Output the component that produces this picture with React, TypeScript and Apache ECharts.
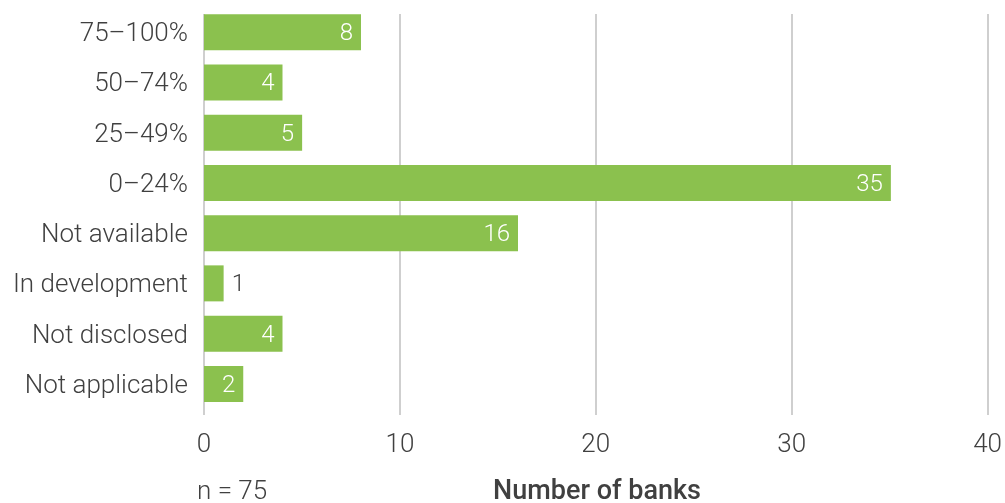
import React, { useEffect, useRef } from "react";
import * as echarts from "echarts";

const categories = [
  "75–100%",
  "50–74%",
  "25–49%",
  "0–24%",
  "Not available",
  "In development",
  "Not disclosed",
  "Not applicable",
];
const values = [8, 4, 5, 35, 16, 1, 4, 2];
const xTicks = { min: 0, max: 40, interval: 10 };
const axisTitle = "Number of banks";
const note = "n = 75";

const GREEN = "#8bc14e";
const TEXT = "#404040";
const GRIDC = "#bfbfbf";
const FONT = "Roboto";

export default function App() {
  const ref = useRef<HTMLDivElement>(null);
  useEffect(() => {
    if (!ref.current) return;
    const chart = echarts.init(ref.current, undefined, { renderer: "svg" });
    chart.setOption({
      animation: false,
      grid: [
        { left: 204, width: 785, top: 7, height: 402 },
        { left: 204, width: 785, top: 14, height: 401 },
      ],
      xAxis: [
        { gridIndex: 0, type: "value", ...xTicks, show: false },
        {
          gridIndex: 1,
          type: "value",
          ...xTicks,
          axisLine: { show: false },
          axisTick: { show: false },
          splitLine: { show: true, lineStyle: { color: GRIDC, width: 1.5 } },
          axisLabel: {
            margin: 15,
            color: TEXT,
            fontFamily: FONT,
            fontWeight: 300,
            fontSize: 26,
          },
        },
      ],
      yAxis: [
        {
          gridIndex: 0,
          type: "category",
          data: categories,
          inverse: true,
          axisLine: { show: false },
          axisTick: { show: false },
          splitLine: { show: false },
          axisLabel: {
            margin: 16,
            color: TEXT,
            fontFamily: FONT,
            fontWeight: 300,
            fontSize: 26,
          },
        },
        { gridIndex: 1, type: "value", show: false, min: 0, max: 1 },
      ],
      graphic: [
        {
          type: "text",
          x: 197,
          y: 503,
          style: {
            text: note,
            fill: TEXT,
            font: `300 26px ${FONT}`,
            verticalAlign: "bottom",
          },
        },
        {
          type: "text",
          x: 597,
          y: 503,
          style: {
            text: axisTitle,
            fill: TEXT,
            font: `500 27px ${FONT}`,
            align: "center",
            verticalAlign: "bottom",
          },
        },
      ],
      series: [
        {
          type: "bar",
          xAxisIndex: 0,
          yAxisIndex: 0,
          barWidth: 36,
          itemStyle: { color: GREEN },
          data: values.map((v) => ({
            value: v,
            label:
              v < 2
                ? { position: "right", color: TEXT, distance: 8 }
                : undefined,
          })),
          label: {
            show: true,
            position: "insideRight",
            distance: 8,
            color: "#ffffff",
            fontFamily: FONT,
            fontWeight: 300,
            fontSize: 24,
          },
        },
        {
          type: "line",
          xAxisIndex: 1,
          yAxisIndex: 1,
          data: [],
        },
      ],
    });
    return () => chart.dispose();
  }, []);
  return (
    <div
      ref={ref}
      style={{ position: "fixed", left: 0, top: 0, width: 1005, height: 503 }}
    />
  );
}
